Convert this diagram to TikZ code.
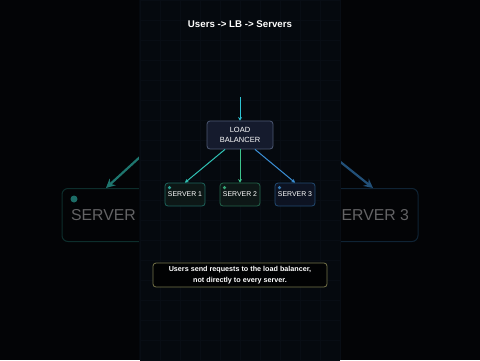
\documentclass[tikz,border=0pt]{standalone}
\usepackage{fontspec}
\setmainfont{Liberation Sans}
\usepackage{tikz}
\usetikzlibrary{arrows.meta,positioning,calc}
\definecolor{bgdark}{HTML}{030406}
\definecolor{panel}{HTML}{05090E}
\definecolor{gridc}{HTML}{080D14}
\definecolor{lbfill}{HTML}{151B2D}
\definecolor{lbdraw}{HTML}{4D5873}
\definecolor{srvfill}{HTML}{0D1716}
\definecolor{srvbluefill}{HTML}{0D1322}
\definecolor{myteal}{HTML}{30C2B4}
\definecolor{mygreen}{HTML}{3EC38C}
\definecolor{myblue}{HTML}{3B8FD6}
\definecolor{mycyan}{HTML}{2EC4D4}
\definecolor{noteline}{HTML}{75744A}
\tikzset{
  box/.style={draw, rounded corners=3pt, line width=0.8pt, align=center, inner sep=0pt, text=white},
  lbbox/.style={box, fill=lbfill, draw=lbdraw, minimum width=66pt, minimum height=28pt,
                font=\fontsize{7.5}{10.5}\selectfont},
  srvbox/.style={box, minimum width=40pt, minimum height=23pt,
                 font=\fontsize{6.9}{8}\selectfont},
  ghostbox/.style={draw, rounded corners=6pt, line width=1pt, inner sep=0pt, fill=bgdark,
                   minimum width=96pt, minimum height=53pt, text=white!38!bgdark,
                   font=\fontsize{15.8}{18}\selectfont},
  led/.style={circle, inner sep=0pt, minimum size=3.5pt},
  arr/.style={-{Stealth[length=3.5pt, width=4pt]}, line width=1pt},
  bigarr/.style={-{Stealth[length=9pt, width=9pt]}, line width=2.2pt},
  notebox/.style={draw=noteline, fill=black!80!panel, rounded corners=3pt, line width=0.8pt,
                  minimum width=174pt, minimum height=24pt, align=center, text=white,
                  font=\bfseries\fontsize{7.2}{10.5}\selectfont},
  title/.style={text=white, font=\bfseries\fontsize{9.7}{11}\selectfont},
}

\begin{document}
\begin{tikzpicture}[x=1pt, y=-1pt]
  \useasboundingbox (0,0) rectangle (480,360);
  \fill[bgdark] (0,0) rectangle (480,360);
  % blurred copies at the sides
  \node[ghostbox, draw=myteal!22!bgdark] (ghostA) at (110,215) {SERVER 1};
  \node[led, fill=myteal!55!bgdark, minimum size=7pt] (ghostAled) at (74,199) {};
  \coordinate (ghostAin) at (152,146);
  \draw[bigarr, myteal!60!bgdark] (ghostAin) -- ([xshift=-4pt]ghostA.north);
  \node[ghostbox, draw=myblue!22!bgdark] (ghostC) at (370,215) {SERVER 3};
  \coordinate (ghostCin) at (328,152);
  \draw[bigarr, myblue!55!bgdark] (ghostCin) -- ([xshift=3pt]ghostC.north);
  % the frame
  \fill[panel] (139,0) rectangle (341,360);
  \draw[gridc, line width=0.4pt, step=20pt] (140,0) grid (340,360);
  \node[title] (head) at (240,24) {Users -> LB -> Servers};
  \coordinate (users) at (240,97);
  \node[lbbox] (lb) at (240,135) {LOAD\\BALANCER};
  \draw[arr, mycyan] (users) -- (lb.north);
  \foreach \i/\x/\col/\bg in {1/185/myteal/srvfill, 2/240/mygreen/srvfill, 3/295/myblue/srvbluefill} {
    \node[srvbox, fill=\bg, draw=\col!45!\bg] (s\i) at (\x,194.5) {SERVER \i};
    \node[led, fill=\col!85!black] (s\i led) at ($(s\i.north west)+(5,5)$) {};
  }
  \foreach \i/\dx in {1/-15, 2/0, 3/15}
    \draw[arr, \ifcase\i\or myteal\or mygreen\else myblue\fi] ([xshift=\dx pt]lb.south) -- (s\i.north);
  \node[notebox] (note) at (240,275) {Users send requests to the load balancer,\\not directly to every server.};
\end{tikzpicture}
\end{document}
